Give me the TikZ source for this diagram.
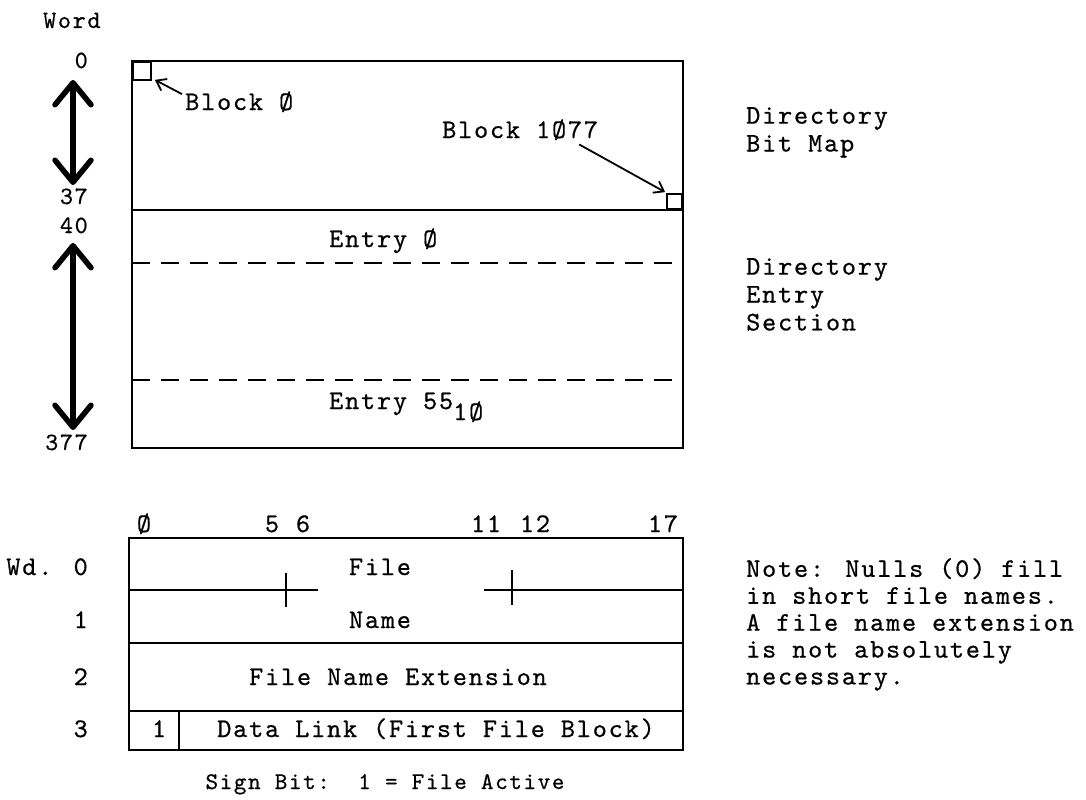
\documentclass[tikz,border=0pt]{standalone}
\usepackage{fontspec}
\usetikzlibrary{arrows.meta}
\newfontfamily\tw{lmmono10-regular.otf}[LetterSpace=6.8,FakeBold=0.6]
\newcommand{\ftop}{\fontsize{27}{28}\selectfont\tw}
\newcommand{\fnote}{\fontsize{27}{27}\selectfont\tw}
\newcommand{\flbl}{\fontsize{25}{26}\selectfont\tw}
\newcommand{\ftab}{\fontsize{27}{27}\selectfont\tw}
\newcommand{\fsmall}{\fontsize{24}{24}\selectfont\tw}
\begin{document}
\begin{tikzpicture}[x=1bp,y=-1bp,
  boxline/.style={line width=1.9bp},
  dashline/.style={line width=2bp, dash pattern=on 18bp off 11bp},
  bigarrow/.style={line width=5.5bp, {Straight Barb[length=22bp,width=36bp,round]}-{Straight Barb[length=22bp,width=36bp,round]}},
  ptr/.style={line width=1.8bp, -{Straight Barb[length=9bp,width=13bp]}},
  toptext/.style={font=\ftop, inner sep=0pt},
  notetext/.style={font=\fnote, inner sep=0pt, align=left, anchor=north west},
  lbltext/.style={font=\ftop, inner sep=0pt, align=left, anchor=north west},
  lbl/.style={font=\flbl, inner sep=0pt},
  tabtext/.style={font=\ftab, inner sep=0pt},
  cell/.style={draw, boxline, inner sep=0pt}]
\useasboundingbox (0,0) rectangle (1086,800);

% ---------- directory layout ----------
\draw[boxline] (132,61) rectangle (683,448);
\draw[boxline] (132,210) -- (683,210);
\draw[dashline] (132,263) -- (683,263);
\draw[dashline] (132,380) -- (683,380);

\node[cell, minimum size=18bp, anchor=north west] (sq0) at (132,61) {};
\node[cell, minimum size=15bp, anchor=south east] (sq1) at (683,210) {};

\node[toptext, anchor=base west] (b0) at (185,110) {Block Ø};
\node[toptext, anchor=base west] (b1) at (442,138) {Block 1Ø77};
\draw[ptr] ([xshift=-3bp,yshift=-3bp]b0.north west) -- ([xshift=3bp,yshift=1bp]sq0.south east);
\draw[ptr] ([xshift=-19bp,yshift=-4bp]b1.south east) -- ([xshift=-1bp,yshift=1bp]sq1.north west);

\node[toptext, anchor=base west] (e0) at (329,247) {Entry Ø};
\node[toptext, anchor=base west] (e55) at (329,409) {Entry 55\raisebox{-11bp}{1Ø}};

% word labels
\node[lbl, anchor=base west] (word) at (43,28) {Word};
\node[lbl, anchor=base east] (w0) at (88,68) {0};
\node[lbl, anchor=base east] (w37) at (88,204) {37};
\node[lbl, anchor=base east] (w40) at (88,233) {40};
\node[lbl, anchor=base east] (w377) at (88,450) {377};
\coordinate (a1t) at (73,80);
\coordinate (a1b) at (73,185);
\coordinate (a2t) at (73,243);
\coordinate (a2b) at (73,430);
\draw[bigarrow] (a1t) -- (a1b);
\draw[bigarrow] (a2t) -- (a2b);

% right-hand labels
\node[lbltext] (bitmap) at (746,107) {Directory\\Bit Map};
\node[lbltext] (entsec) at (746,258) {Directory\\Entry\\Section};

% ---------- entry format ----------
\draw[boxline] (129,538) rectangle (683,750);
\draw[boxline] (129,590) -- (318,590);
\draw[boxline] (484,590) -- (683,590);
\draw[boxline] (286,573) -- (286,607);
\draw[boxline] (512,570) -- (512,605);
\draw[boxline] (129,643) -- (683,643);
\draw[boxline] (129,711) -- (683,711);
\draw[boxline] (179,711) -- (179,750);

\node[tabtext, anchor=base] (bz) at (144,532) {Ø};
\node[tabtext, anchor=base] (b5) at (272,532) {5};
\node[tabtext, anchor=base] (b6) at (303,532) {6};
\node[tabtext, anchor=base] (b11) at (486,532) {11};
\node[tabtext, anchor=base] (b12) at (535,532) {12};
\node[tabtext, anchor=base] (b17) at (663,532) {17};

\node[tabtext, anchor=base east] (r0) at (88,575) {Wd. 0};
\node[tabtext, anchor=base east] (r1) at (88,628) {1};
\node[tabtext, anchor=base east] (r2) at (88,685) {2};
\node[tabtext, anchor=base east] (r3) at (88,737) {3};

\node[tabtext, anchor=base] (file) at (380,575) {File};
\node[tabtext, anchor=base] (name) at (380,628) {Name};
\node[tabtext, anchor=base] (ext) at (398,685) {File Name Extension};
\node[tabtext, anchor=base] (sign) at (159,737) {1};
\node[tabtext, anchor=base] (link) at (436,737) {Data Link (First File Block)};
\node[font=\fsmall, inner sep=0pt, anchor=base] (signnote) at (385,789) {Sign Bit:\ \ 1 = File Active};

\node[notetext] (note) at (746,558) {Note: Nulls (0) fill\\in short file names.\\A file name extension\\is not absolutely\\necessary.};
\end{tikzpicture}
\end{document}
